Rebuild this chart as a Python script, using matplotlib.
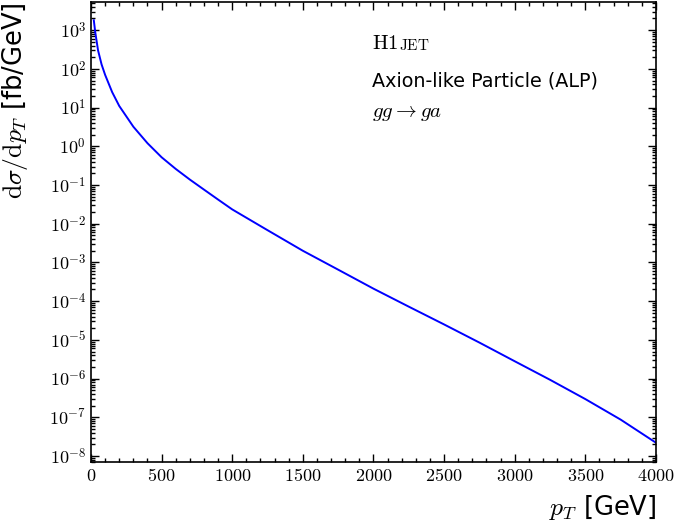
import math
import matplotlib
matplotlib.use("Agg")
import matplotlib.pyplot as plt
from matplotlib.ticker import MultipleLocator, FuncFormatter, LogLocator

plt.rcParams['font.family'] = ['DejaVu Sans']
plt.rcParams['mathtext.fontset'] = 'cm'

# values
pt = [20, 30, 50, 75, 100, 150, 200, 300, 400, 500, 600, 700, 800, 900,
      1000, 1250, 1500, 1750, 2000, 2250, 2500, 2750, 3000, 3250, 3500,
      3750, 4000]
dsigma = [1.8e3, 8.9e2, 3.0e2, 1.3e2, 7.0e1, 2.5e1, 1.1e1, 3.2, 1.2, 5.2e-1,
          2.6e-1, 1.38e-1, 7.6e-2, 4.2e-2, 2.34e-2, 6.8e-3, 2.0e-3, 6.5e-4,
          2.1e-4, 7.2e-5, 2.5e-5, 8.5e-6, 2.8e-6, 9.3e-7, 2.95e-7, 8.7e-8,
          2.2e-8]

fig = plt.figure(figsize=(6.76, 5.25), dpi=100)
ax = fig.add_axes([0.1346, 0.12, 0.8358, 0.876])

ax.plot(pt, dsigma, color='#0000ff', lw=1.4)
ax.set_yscale('log')
ax.set_xlim(0, 4000)
ax.set_ylim(7e-9, 5.3e3)

ax.xaxis.set_major_locator(MultipleLocator(500))
ax.xaxis.set_minor_locator(MultipleLocator(100))
ax.yaxis.set_major_locator(LogLocator(base=10, numticks=20))
ax.yaxis.set_minor_locator(LogLocator(base=10, subs=range(2, 10), numticks=20))
ax.xaxis.set_major_formatter(FuncFormatter(lambda v, p: r"$\mathrm{%d}$" % v))
ax.yaxis.set_major_formatter(FuncFormatter(
    lambda v, p: r"$\mathrm{10}^{\mathrm{%d}}$" % round(math.log10(v))))

ax.tick_params(which='both', direction='in', top=True, right=True,
               labelsize=13, width=1.0)
ax.tick_params(which='major', length=6)
ax.tick_params(which='minor', length=3)
for s in ax.spines.values():
    s.set_linewidth(1.2)

ax.set_xlabel(r"$p_T$ [GeV]", loc='right', fontsize=18.5)
ax.set_ylabel(r"$\mathrm{d}\sigma/\mathrm{d}p_T$ [fb/GeV]", loc='top', fontsize=18.5)
ax.xaxis.set_label_coords(1.0, -0.068)
ax.yaxis.set_label_coords(-0.108, 1.0)

t1 = ax.text(0.498, 0.898, r"$\mathrm{H1}$", transform=ax.transAxes,
             fontsize=15, va='baseline', ha='left')
ax.annotate(r"$\mathrm{JET}$", xy=(1, 0), xycoords=t1, fontsize=11,
            va='bottom', ha='left')
ax.text(0.498, 0.817, "Axion-like Particle (ALP)", transform=ax.transAxes,
        fontsize=13.8, va='baseline', ha='left')
ax.text(0.498, 0.75, r"$gg \to ga$", transform=ax.transAxes,
        fontsize=15, va='baseline', ha='left')

fig.savefig("out.png", dpi=100)
